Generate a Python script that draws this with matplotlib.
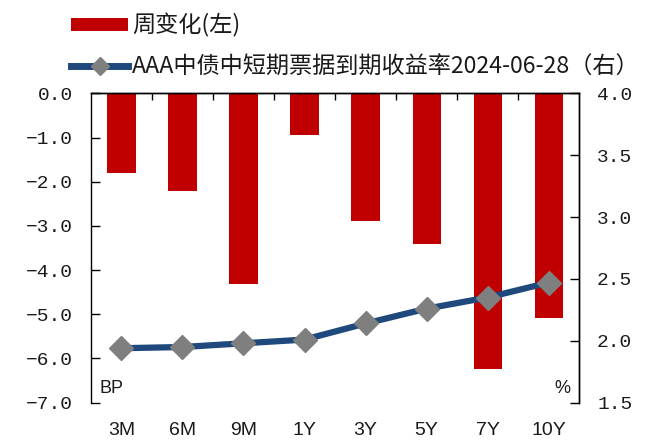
import matplotlib
matplotlib.use("Agg")
import matplotlib.pyplot as plt
from matplotlib.lines import Line2D
from matplotlib.patches import Patch
import numpy as np

categories = ["3M", "6M", "9M", "1Y", "3Y", "5Y", "7Y", "10Y"]
weekly_change = [-1.81, -2.22, -4.31, -0.94, -2.89, -3.42, -6.24, -5.09]
yield_values = [1.94, 1.95, 1.98, 2.01, 2.14, 2.26, 2.35, 2.47]
bar_label = "周变化(左)"
line_label = "AAA中债中短期票据到期收益率2024-06-28（右）"

plt.rcParams['font.family'] = ['Liberation Sans', 'Noto Sans CJK SC', 'DejaVu Sans']

BAR_C = "#C00000"
LINE_C = "#1F497D"
MARK_C = "#7F7F7F"
TXT_C = "#1a1a1a"

fig = plt.figure(figsize=(6.47, 4.46), dpi=100)
ax = fig.add_axes([0.1406, 0.0971, 0.895 - 0.1406, 0.7908 - 0.0971])
ax2 = ax.twinx()

x = np.arange(len(categories))
ax.bar(x, weekly_change, width=0.46, color=BAR_C, zorder=2)
ax2.plot(x, yield_values, color=LINE_C, lw=4.5, marker="D", markersize=12.5,
         markerfacecolor=MARK_C, markeredgecolor=MARK_C, zorder=3)

ax.set_xlim(-0.5, len(categories) - 0.5)
ax.set_ylim(-7, 0)
ax2.set_ylim(1.5, 4.0)
left_ticks = np.arange(-7, 0.01, 1.0)
right_ticks = np.arange(1.5, 4.01, 0.5)
mono = ['Liberation Mono', 'DejaVu Sans Mono']
ax.set_yticks(left_ticks)
ax.set_yticklabels([f"{v:.1f}".replace("-", "\u2212") for v in left_ticks], family=mono)
ax2.set_yticks(right_ticks)
ax2.set_yticklabels([f"{v:.1f}" for v in right_ticks], family=mono)

ax.set_xticks(x)
ax.set_xticklabels(categories)
ax.set_xticks(np.arange(0.5, len(categories) - 0.5, 1.0), minor=True)
ax.tick_params(axis='x', which='major', length=0, pad=14, labelsize=14, bottom=True, top=False,
               colors=TXT_C)
ax.tick_params(axis='x', which='minor', direction='in', length=5, top=True, bottom=False, width=1)
ax.tick_params(axis='y', direction='in', length=6.5, width=1, pad=13, labelsize=14, colors=TXT_C)
ax2.tick_params(axis='y', direction='in', length=6.5, width=1, pad=13, labelsize=14, colors=TXT_C)
for a in (ax, ax2):
    a.tick_params(axis='y', color='black')

for a in (ax, ax2):
    a.spines['bottom'].set_visible(False)
    for s in ('left', 'right', 'top'):
        a.spines[s].set_linewidth(1.0)
        a.spines[s].set_color('black')
ax2.spines['left'].set_visible(False)

ax.text(0.018, 0.045, "BP", transform=ax.transAxes, fontsize=13, ha='left', va='center', color=TXT_C)
ax.text(0.982, 0.045, "%", transform=ax.transAxes, fontsize=13, ha='right', va='center', color=TXT_C)

handles = [Patch(facecolor=BAR_C, edgecolor="none"),
           Line2D([0], [0], color=LINE_C, lw=5, marker="D", markersize=9,
                  markerfacecolor=MARK_C, markeredgecolor=MARK_C)]
leg = fig.legend(handles, [bar_label, line_label], loc='upper left', bbox_to_anchor=(0.096, 0.99),
                 frameon=False, handlelength=2.45, handleheight=0.45, handletextpad=0.15,
                 labelspacing=0.75, borderaxespad=0.0,
                 prop={'family': ['Noto Sans CJK SC'], 'size': 16.7})
for t in leg.get_texts():
    t.set_color(TXT_C)

fig.savefig("out.png", dpi=100)
